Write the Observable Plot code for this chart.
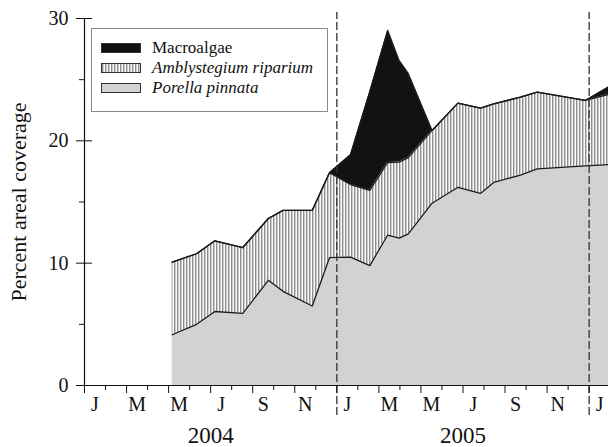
<!DOCTYPE html>
<html><head><meta charset="utf-8">
<script src="https://cdn.jsdelivr.net/npm/d3@7"></script>
<script src="https://cdn.jsdelivr.net/npm/@observablehq/plot@0.6"></script>
<style>
html,body{margin:0;padding:0;background:#fff;}
#wrap{position:relative;width:608px;height:447px;overflow:hidden;font-family:"Liberation Serif",serif;}
#legend{position:absolute;left:91px;top:28px;width:237px;height:84px;border:1px solid #8a8a8a;background:#fff;box-sizing:border-box;}
.item{position:absolute;left:9px;height:20px;display:flex;align-items:center;font-size:17px;color:#111;white-space:nowrap;}
.sw{width:40px;height:10px;box-sizing:border-box;border:1px solid #333;margin-right:11px;flex:none;}
</style></head><body><div id="wrap"><div id="chart"></div><div id="legend"></div></div>
<script>
// months since 1 Jan 2004
const time = [4.17, 5.33, 6.20, 7.53, 8.74, 9.44, 10.83, 11.65, 12.65, 13.57, 14.42, 14.96, 15.40, 16.53, 17.76, 18.83, 19.46, 20.73, 21.53, 23.82, 24.92];
const porella = [4.15, 5.0, 6.05, 5.9, 8.6, 7.7, 6.5, 10.45, 10.5, 9.8, 12.3, 12.05, 12.4, 14.9, 16.2, 15.7, 16.6, 17.2, 17.7, 17.95, 18.05];
const amblystegium = [5.93, 5.77, 5.78, 5.38, 5.05, 6.61, 7.81, 6.94, 5.93, 6.14, 5.93, 6.21, 6.23, 5.95, 6.88, 6.97, 6.43, 6.37, 6.28, 5.35, 5.75];
const macroalgae = [0, 0, 0, 0, 0, 0, 0, 0, 2.43, 8.1, 10.8, 8.31, 6.86, 0, 0, 0, 0, 0, 0, 0, 0.6];
const seriesNames = ["Macroalgae", "Amblystegium riparium", "Porella pinnata"];
const monthLabels = ["J", "M", "M", "J", "S", "N", "J", "M", "M", "J", "S", "N", "J"];
const yearLabels = ["2004", "2005"];
const yearPositions = [6, 18];
const yearBreaks = [12, 24];
const yTicks = [0, 10, 20, 30];
const yMinor = [5, 15, 25];
const xEnd = 24.92;

const rows = time.map((t, i) => {
  const p = porella[i], pa = porella[i] + amblystegium[i];
  return {t, p, pa, top: pa + macroalgae[i]};
});
const monthEdges = d3.range(0, 25);
const majorMonths = monthEdges.filter(m => m % 2 === 0);
const minorMonths = monthEdges.filter(m => m % 2 === 1);
const labelPos = monthLabels.map((_, i) => 2 * i + 0.5);

const lineStyle = {stroke: "#1a1a1a", strokeWidth: 1.3};
const chart = Plot.plot({
  width: 608, height: 447,
  marginLeft: 84, marginRight: 0, marginTop: 18, marginBottom: 62,
  x: {domain: [0, xEnd], label: null},
  y: {domain: [0, 30], label: null},
  style: {fontFamily: "Liberation Serif", fontSize: "20px", color: "#111", background: "#fff", overflow: "visible"},
  marks: [
    Plot.areaY(rows, {x: "t", y1: 0, y2: "p", fill: "#d1d2d4"}),
    Plot.areaY(rows, {x: "t", y1: "p", y2: "pa", fill: "url(#hatch)"}),
    Plot.areaY(rows, {x: "t", y1: "pa", y2: "top", fill: "#121212"}),
    Plot.line(rows, {x: "t", y: "p", ...lineStyle}),
    Plot.line(rows, {x: "t", y: "pa", ...lineStyle}),
    Plot.line(rows, {x: "t", y: "top", ...lineStyle}),
    Plot.ruleX(yearBreaks, {y1: -2.45, y2: 30.5, stroke: "#333", strokeWidth: 1.3, strokeDasharray: "8,3"}),
    Plot.ruleX([0], {stroke: "#111", strokeWidth: 1.2}),
    Plot.ruleY([0], {stroke: "#111", strokeWidth: 1.2}),
    Plot.axisX(majorMonths, {tickSize: 8, fill: "none", stroke: "#111"}),
    Plot.axisX(minorMonths, {tickSize: 5, fill: "none", stroke: "#111"}),
    Plot.axisX(labelPos, {tickSize: 0, tickPadding: 11, fontSize: 20, tickFormat: d => monthLabels[Math.round((d - 0.5) / 2)]}),
    Plot.axisX(yearPositions, {tickSize: 0, tickPadding: 41, fontSize: 23, tickFormat: d => yearLabels[yearPositions.indexOf(d)]}),
    Plot.axisY(yTicks, {tickSize: 16, dx: 8, fill: "none", stroke: "#111"}),
    Plot.axisY(yMinor, {tickSize: 5, fill: "none", stroke: "#111"}),
    Plot.axisY(yTicks, {tickSize: 8, tickPadding: 8, stroke: "none", fontSize: 20}),
    Plot.axisY([], {tickSize: 0, stroke: "none", fontSize: 22,
      label: "Percent areal coverage", labelArrow: "none", labelAnchor: "center", labelOffset: 74})
  ]
});
d3.select(chart).insert("defs", ":first-child").html(
  `<pattern id="hatch" patternUnits="userSpaceOnUse" width="3" height="10">
     <rect width="3" height="10" fill="#fafafa"/>
     <rect x="0" width="1" height="10" fill="#8e8e8e"/>
     <rect x="1" width="1" height="10" fill="#cdcdcd"/>
   </pattern>`);
document.getElementById("chart").appendChild(chart);

// legend
const swatchStyles = [
  "background:#121212;",
  "background:repeating-linear-gradient(90deg,#8e8e8e 0 1px,#cdcdcd 1px 2px,#fafafa 2px 3px);",
  "background:#d1d2d4;"
];
const legend = document.getElementById("legend");
seriesNames.forEach((name, i) => {
  const it = document.createElement("div");
  it.className = "item";
  it.style.top = (9 + 20 * i) + "px";
  const sw = document.createElement("div");
  sw.className = "sw";
  sw.setAttribute("style", swatchStyles[i]);
  const tx = document.createElement("span");
  tx.textContent = name;
  if (i > 0) tx.style.fontStyle = "italic";
  it.appendChild(sw); it.appendChild(tx);
  legend.appendChild(it);
});
</script>
</body></html>
